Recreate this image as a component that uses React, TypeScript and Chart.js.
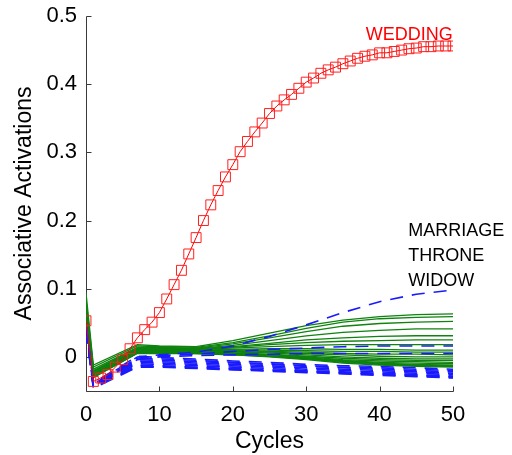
import React, { useEffect, useRef } from "react";
import { Chart, registerables } from "chart.js";

Chart.register(...registerables);

// Sparse cycle positions at which the green/blue traces were read
const CYCLES = [0, 1, 7, 10, 15, 20, 25, 30, 35, 40, 45, 50];

const WEDDING_CYCLES = [
  0, 1, 2, 3, 4, 5, 6, 7, 8, 9, 10, 11, 12, 13, 14, 15, 16, 17, 18, 19, 20, 21, 22, 23, 24, 25,
  26, 27, 28, 29, 30, 31, 32, 33, 34, 35, 36, 37, 38, 39, 40, 41, 42, 43, 44, 45, 46, 47, 48, 49, 50,
];
const WEDDING = [
  0.053, -0.036, -0.031, -0.026, -0.015, -0.004, 0.012, 0.028, 0.04, 0.051, 0.065, 0.085, 0.106,
  0.127, 0.151, 0.175, 0.2, 0.223, 0.244, 0.264, 0.282, 0.301, 0.316, 0.33, 0.343, 0.357, 0.368,
  0.377, 0.385, 0.394, 0.403, 0.409, 0.416, 0.421, 0.425, 0.43, 0.434, 0.438, 0.441, 0.443, 0.446,
  0.446, 0.448, 0.45, 0.452, 0.453, 0.455, 0.455, 0.456, 0.456, 0.456,
];

const GREEN_LINES = [
  [0.094, -0.012, 0.018, 0.016, 0.015, 0.024, 0.035, 0.046, 0.054, 0.059, 0.062, 0.063],
  [0.085, -0.015, 0.016, 0.015, 0.014, 0.021, 0.031, 0.042, 0.051, 0.056, 0.058, 0.059],
  [0.08, -0.018, 0.014, 0.014, 0.013, 0.019, 0.028, 0.037, 0.045, 0.049, 0.051, 0.052],
  [0.075, -0.02, 0.013, 0.013, 0.012, 0.017, 0.024, 0.031, 0.036, 0.039, 0.041, 0.041],
  [0.072, -0.021, 0.012, 0.012, 0.012, 0.015, 0.02, 0.025, 0.028, 0.03, 0.031, 0.031],
  [0.07, -0.022, 0.012, 0.012, 0.011, 0.014, 0.018, 0.021, 0.023, 0.024, 0.025, 0.025],
  [0.068, -0.023, 0.011, 0.011, 0.011, 0.013, 0.015, 0.017, 0.018, 0.018, 0.018, 0.018],
  [0.065, -0.024, 0.011, 0.011, 0.01, 0.011, 0.012, 0.012, 0.011, 0.011, 0.01, 0.01],
  [0.063, -0.025, 0.01, 0.01, 0.01, 0.01, 0.01, 0.009, 0.008, 0.008, 0.007, 0.007],
  [0.06, -0.026, 0.01, 0.01, 0.009, 0.009, 0.008, 0.007, 0.005, 0.004, 0.004, 0.003],
  [0.058, -0.026, 0.009, 0.009, 0.009, 0.008, 0.007, 0.005, 0.003, 0.001, 0.0, 0.0],
  [0.056, -0.027, 0.009, 0.009, 0.008, 0.007, 0.006, 0.003, 0.0, -0.002, -0.003, -0.003],
  [0.054, -0.027, 0.008, 0.008, 0.008, 0.006, 0.004, 0.001, -0.002, -0.004, -0.005, -0.005],
  [0.052, -0.028, 0.008, 0.008, 0.007, 0.005, 0.003, 0.0, -0.004, -0.006, -0.007, -0.008],
  [0.05, -0.028, 0.007, 0.007, 0.007, 0.005, 0.002, -0.001, -0.005, -0.008, -0.009, -0.01],
  [0.05, -0.029, 0.007, 0.007, 0.006, 0.004, 0.002, -0.002, -0.006, -0.009, -0.011, -0.012],
  [0.05, -0.029, 0.006, 0.006, 0.006, 0.004, 0.001, -0.003, -0.007, -0.01, -0.012, -0.013],
  [0.05, -0.03, 0.006, 0.006, 0.005, 0.003, 0.001, -0.003, -0.008, -0.011, -0.013, -0.014],
  [0.05, -0.03, 0.005, 0.005, 0.005, 0.003, 0.0, -0.004, -0.009, -0.012, -0.014, -0.015],
];

const BLUE_LINES = [
  [0.05, -0.04, 0.0, 0.003, 0.007, 0.016, 0.03, 0.047, 0.065, 0.081, 0.092, 0.098],
  [0.045, -0.042, -0.002, 0.002, 0.004, 0.008, 0.011, 0.013, 0.015, 0.016, 0.016, 0.016],
  [0.045, -0.043, -0.004, 0.0, 0.002, 0.003, 0.004, 0.005, 0.005, 0.005, 0.005, 0.005],
  [0.045, -0.038, 0.001, -0.001, -0.003, -0.006, -0.008, -0.011, -0.013, -0.014, -0.016, -0.018],
  [0.044, -0.039, -0.002, -0.003, -0.005, -0.008, -0.01, -0.013, -0.015, -0.016, -0.018, -0.02],
  [0.043, -0.04, -0.004, -0.005, -0.007, -0.009, -0.011, -0.014, -0.016, -0.018, -0.02, -0.022],
  [0.042, -0.041, -0.006, -0.007, -0.009, -0.011, -0.013, -0.016, -0.018, -0.02, -0.022, -0.024],
  [0.041, -0.042, -0.008, -0.009, -0.011, -0.013, -0.015, -0.018, -0.02, -0.022, -0.024, -0.026],
  [0.04, -0.043, -0.01, -0.011, -0.013, -0.015, -0.017, -0.02, -0.022, -0.024, -0.026, -0.028],
  [0.04, -0.044, -0.012, -0.013, -0.015, -0.017, -0.019, -0.021, -0.023, -0.025, -0.027, -0.029],
  [0.039, -0.045, -0.014, -0.014, -0.016, -0.018, -0.02, -0.022, -0.024, -0.026, -0.028, -0.03],
  [0.038, -0.046, -0.015, -0.015, -0.017, -0.019, -0.021, -0.023, -0.025, -0.027, -0.029, -0.031],
];

const X_TICKS = [0, 10, 20, 30, 40, 50];
const Y_TICKS = [0, 0.1, 0.2, 0.3, 0.4, 0.5];
const WORD_LABELS = ["MARRIAGE", "THRONE", "WIDOW"];
const TARGET_LABEL = "WEDDING";

const FONT = "'Liberation Sans', Arial, Helvetica, sans-serif";

const axesPlugin = {
  id: "matlabAxes",
  beforeDatasetsDraw(chart: any) {
    const { ctx, scales } = chart;
    const x = scales.x;
    const y = scales.y;
    const left = Math.round(x.getPixelForValue(0)) + 0.5;
    const right = Math.round(x.getPixelForValue(50)) + 0.5;
    const top = Math.round(y.getPixelForValue(0.5)) + 0.5;
    const bottom = Math.round(y.getPixelForValue(-0.05)) + 0.5;
    ctx.save();
    ctx.strokeStyle = "#3a3a3a";
    ctx.lineWidth = 1;
    ctx.beginPath();
    ctx.moveTo(left, top);
    ctx.lineTo(left, bottom);
    ctx.lineTo(right, bottom);
    X_TICKS.forEach((v) => {
      const px = Math.round(x.getPixelForValue(v)) + 0.5;
      ctx.moveTo(px, bottom);
      ctx.lineTo(px, bottom - 5);
    });
    Y_TICKS.forEach((v) => {
      const py = Math.round(y.getPixelForValue(v)) + 0.5;
      ctx.moveTo(left, py);
      ctx.lineTo(left + 5, py);
    });
    ctx.stroke();
    ctx.restore();
  },
  afterDraw(chart: any) {
    const { ctx, scales } = chart;
    const x = scales.x;
    const y = scales.y;
    ctx.save();
    ctx.font = `18px ${FONT}`;
    ctx.textAlign = "left";
    ctx.textBaseline = "middle";
    ctx.fillStyle = "#ff0000";
    ctx.fillText(TARGET_LABEL, x.getPixelForValue(38.1), y.getPixelForValue(0.472));
    ctx.fillStyle = "#000000";
    const wx = x.getPixelForValue(43.9);
    WORD_LABELS.forEach((w, i) => {
      ctx.fillText(w, wx, y.getPixelForValue(0.184) + i * 25);
    });
    ctx.restore();
  },
};

export default function App() {
  const ref = useRef<HTMLCanvasElement | null>(null);

  useEffect(() => {
    if (!ref.current) return;
    const datasets: any[] = [];
    datasets.push({
      label: TARGET_LABEL,
      data: WEDDING_CYCLES.map((c, i) => ({ x: c, y: WEDDING[i] })),
      borderColor: "#ff0000",
      borderWidth: 1,
      pointStyle: "rect",
      pointRadius: 7,
      pointBorderColor: "#ff2020",
      pointBackgroundColor: "rgba(0,0,0,0)",
      pointBorderWidth: 1,
      tension: 0,
    });
    BLUE_LINES.forEach((vals, k) => {
      datasets.push({
        label: `blue${k}`,
        data: CYCLES.map((c, i) => ({ x: c, y: vals[i] })),
        borderColor: "#1a1aff",
        borderWidth: 1.6,
        borderDash: [13, 9],
        pointRadius: 0,
        tension: 0,
      });
    });
    GREEN_LINES.forEach((vals, k) => {
      datasets.push({
        label: `green${k}`,
        data: CYCLES.map((c, i) => ({ x: c, y: vals[i] })),
        borderColor: "#0f820f",
        borderWidth: 1.3,
        pointRadius: 0,
        tension: 0,
      });
    });

    const chart = new Chart(ref.current, {
      type: "line",
      data: { datasets },
      plugins: [axesPlugin],
      options: {
        animation: false,
        responsive: true,
        maintainAspectRatio: false,
        layout: { padding: { left: 0, right: 59, top: 16, bottom: 0 } },
        plugins: { legend: { display: false }, tooltip: { enabled: false } },
        scales: {
          x: {
            type: "linear",
            min: 0,
            max: 50,
            border: { display: false },
            grid: { display: false, drawTicks: false, tickLength: 0 },
            afterBuildTicks: (s: any) => {
              s.ticks = X_TICKS.map((v) => ({ value: v }));
            },
            ticks: {
              padding: 11,
              color: "#000",
              font: { family: FONT, size: 22 },
              maxRotation: 0,
              autoSkip: false,
              callback: (v: any) => String(v),
            },
            title: {
              display: true,
              text: "Cycles",
              color: "#000",
              font: { family: FONT, size: 23 },
              padding: { top: 0, bottom: 0 },
            },
            afterFit: (s: any) => {
              s.height = 64;
              s.paddingLeft = 0;
              s.paddingRight = 0;
            },
          },
          y: {
            type: "linear",
            min: -0.05,
            max: 0.5,
            border: { display: false },
            grid: { display: false, drawTicks: false, tickLength: 0 },
            afterBuildTicks: (s: any) => {
              s.ticks = Y_TICKS.map((v) => ({ value: v }));
            },
            ticks: {
              padding: 9,
              color: "#000",
              font: { family: FONT, size: 22 },
              autoSkip: false,
              callback: (v: any) => (v === 0 ? "0" : Number(v).toFixed(1)),
            },
            title: {
              display: true,
              text: "Associative Activations",
              color: "#000",
              font: { family: FONT, size: 23 },
              padding: { top: 11, bottom: 0 },
            },
            afterFit: (s: any) => {
              s.width = 86;
              s.paddingTop = 0;
              s.paddingBottom = 0;
            },
          },
        },
      },
    });
    return () => chart.destroy();
  }, []);

  return (
    <div style={{ position: "fixed", left: 0, top: 0, width: 512, height: 455, background: "#fff" }}>
      <canvas ref={ref} />
    </div>
  );
}
